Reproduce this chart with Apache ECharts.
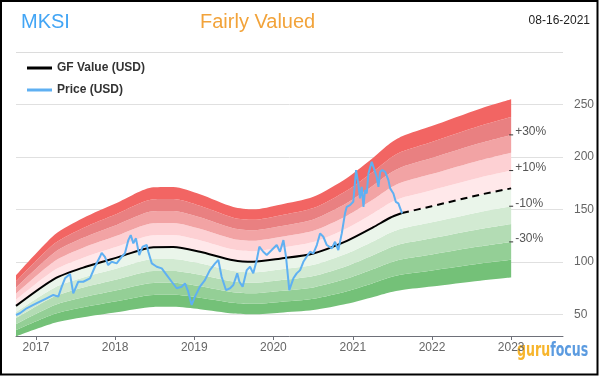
<!DOCTYPE html>
<html>
<head>
<meta charset="utf-8">
<script src="https://cdn.jsdelivr.net/npm/echarts@6/dist/echarts.min.js"></script>
<style>
  html, body { margin: 0; padding: 0; background: #fff; }
  #gfchart { width: 602px; height: 376px; }
</style>
</head>
<body>
<div id="gfchart"></div>
<script>
// GF Value line (solid up to today, dashed projection afterwards)
var gfDates = ['2016-10-01', '2017-03-29', '2017-08-07', '2018-01-08', '2018-06-26', '2018-09-26',
  '2019-01-27', '2019-06-30', '2019-09-30', '2020-01-31', '2020-07-03', '2020-12-05',
  '2021-04-06', '2021-06-22', '2021-08-16', '2021-12-31', '2022-08-11', '2023-01-01'];
var gfValues = [58, 84, 94.5, 104, 114, 114.2,
  109.6, 101.5, 100, 103, 108, 120,
  133, 142, 146.5, 153, 164, 170];
var today = '2021-08-16';

// Price (USD)
var priceDates = ['2016-10-01', '2016-10-19', '2016-11-19', '2016-12-20', '2017-01-19', '2017-02-19',
  '2017-03-22', '2017-04-14', '2017-04-30', '2017-05-15', '2017-06-07', '2017-06-22', '2017-07-15',
  '2017-08-07', '2017-09-07', '2017-09-30', '2017-10-23', '2017-10-31', '2017-11-15', '2017-11-30',
  '2017-12-16', '2018-01-08', '2018-01-31', '2018-02-15', '2018-03-03', '2018-03-14', '2018-03-26',
  '2018-04-07', '2018-04-22', '2018-05-08', '2018-05-27', '2018-06-03', '2018-06-19', '2018-07-12',
  '2018-08-04', '2018-08-27', '2018-09-19', '2018-10-12', '2018-11-04', '2018-11-19', '2018-12-04',
  '2018-12-20', '2019-01-04', '2019-01-27', '2019-02-19', '2019-03-14', '2019-04-07', '2019-04-22',
  '2019-05-07', '2019-05-27', '2019-06-15', '2019-06-30', '2019-07-18', '2019-07-28', '2019-08-12',
  '2019-08-31', '2019-09-15', '2019-09-30', '2019-10-16', '2019-10-28', '2019-11-15', '2019-12-01',
  '2019-12-24', '2020-01-16', '2020-01-31', '2020-02-16', '2020-02-28', '2020-03-14', '2020-04-02',
  '2020-04-17', '2020-05-03', '2020-05-18', '2020-06-02', '2020-06-18', '2020-07-03', '2020-07-19',
  '2020-08-03', '2020-08-18', '2020-09-03', '2020-09-26', '2020-10-11', '2020-10-26', '2020-11-11',
  '2020-11-26', '2020-12-04', '2020-12-19', '2021-01-03', '2021-01-16', '2021-01-26', '2021-02-03',
  '2021-02-11', '2021-02-19', '2021-02-26', '2021-03-06', '2021-03-14', '2021-03-29', '2021-04-06',
  '2021-04-13', '2021-04-21', '2021-04-29', '2021-05-07', '2021-05-17', '2021-05-30', '2021-06-14',
  '2021-06-22', '2021-07-07', '2021-07-18', '2021-07-30', '2021-08-16'];
var priceValues = [49.3, 51, 55.7, 58.9, 62, 65.2,
  68.4, 66.8, 76.3, 84.3, 88.4, 70, 81,
  81, 84.3, 95.3, 104.8, 108.6, 104.8, 96.9,
  100, 98.5, 104.8, 108, 120.7, 125.5, 117.6,
  122.4, 106.5, 114.4, 116, 109.6, 98.5, 95.3,
  93.8, 87.4, 81, 74.8, 76.3, 79.5, 71.5,
  58.9, 66.8, 76.3, 82.6, 92.1, 98.5, 101.7,
  85.8, 73.1, 74.8, 77.9, 89, 81, 76.3,
  92.1, 95.3, 89, 101.7, 114.4, 109.6, 106.5,
  111.2, 116, 109.6, 120.7, 104.8, 73.1, 84.3,
  89, 92.1, 100, 104.8, 109.6, 108, 116,
  127.1, 123.9, 116, 112.8, 119.1, 111.2, 127.1,
  146.2, 152.4, 154, 157.2, 187.4, 174.7, 160.4,
  171.5, 152.4, 168.4, 165.2, 184.2, 195.3, 190.5,
  192.1, 181, 171.5, 185.8, 187.4, 185.8, 177.9,
  170, 165.2, 157.2, 155.7, 146.2];

// valuation bands as multiples of GF Value, from bottom to top
var bandSteps = [0.5, 0.6, 0.7, 0.8, 0.9, 1.0, 1.1, 1.2, 1.3, 1.4, 1.5];
var bandColors = ['#74c178', '#94cf96', '#b3dcb4', '#d2ead2', '#eaf5ea',
  '#ffe8ea', '#fdd0d3', '#f2a3a4', '#e98081', '#f26563'];
var bandTagText = ['+30%', '+10%', '-10%', '-30%'];
var bandTagSteps = [1.3, 1.1, 0.9, 0.7];

var yTicks = [50, 100, 150, 200, 250, 300];
var yLabels = [50, 100, 150, 200, 250];

var gridLeft = 16, gridRight = 39, gridTop = 52, gridBottom = 40;
var cut = gfDates.indexOf(today);
var series = [];

// invisible base of the band stack
series.push({
  name: 'base', type: 'line', stack: 'band', smooth: 0.25, symbol: 'none', silent: true,
  lineStyle: { opacity: 0 },
  data: gfDates.map(function (d, i) { return [d, gfValues[i] * bandSteps[0]]; })
});
for (var b = 0; b < bandColors.length; b++) {
  (function (b) {
    series.push({
      name: 'band' + b, type: 'line', stack: 'band', smooth: 0.25, symbol: 'none', silent: true,
      lineStyle: { opacity: 0 },
      areaStyle: { color: bandColors[b], opacity: 1 },
      data: gfDates.map(function (d, i) { return [d, gfValues[i] * (bandSteps[b + 1] - bandSteps[b])]; })
    });
  })(b);
}

var lastDate = gfDates[gfDates.length - 1];
var lastGf = gfValues[gfValues.length - 1];

series.push({
  name: 'GF Value (USD)', type: 'line', smooth: 0.25, symbol: 'none',
  lineStyle: { color: '#000', width: 2 }, itemStyle: { color: '#000' },
  data: gfDates.slice(0, cut + 1).map(function (d, i) { return [d, gfValues[i]]; })
});
series.push({
  name: 'gfFuture', type: 'line', smooth: 0.25, symbol: 'none',
  lineStyle: { color: '#000', width: 2, type: [7, 5] },
  data: gfDates.slice(cut).map(function (d, i) { return [d, gfValues[cut + i]]; }),
  markPoint: {
    symbol: 'rect', symbolSize: [4, 1], silent: true,
    itemStyle: { color: '#333' },
    label: { show: true, position: 'right', distance: 2, offset: [0, -3], color: '#555', fontSize: 12, fontFamily: 'Liberation Sans', formatter: '{b}' },
    data: bandTagText.map(function (t, i) { return { name: t, coord: [lastDate, lastGf * bandTagSteps[i]] }; })
  }
});
series.push({
  name: 'Price (USD)', type: 'line', symbol: 'none',
  lineStyle: { color: '#5fb0f2', width: 2 }, itemStyle: { color: '#5fb0f2' },
  data: priceDates.map(function (d, i) { return [d, priceValues[i]]; })
});

var chart = echarts.init(document.getElementById('gfchart'));
chart.setOption({
  animation: false,
  textStyle: { fontFamily: 'Liberation Sans' },
  grid: { left: gridLeft, right: gridRight, top: gridTop, bottom: gridBottom },
  legend: {
    orient: 'vertical', left: 22, top: 57, itemWidth: 25, itemHeight: 3, itemGap: 10,
    icon: 'rect',
    textStyle: { fontSize: 12, fontWeight: 'bold', color: '#333' },
    data: ['GF Value (USD)', 'Price (USD)']
  },
  xAxis: {
    type: 'time', min: '2016-10-01', max: '2023-08-28',
    minInterval: 365 * 24 * 3600 * 1000,
    axisLine: { lineStyle: { color: '#6e7079' } },
    axisTick: { length: 4, lineStyle: { color: '#6e7079' } },
    axisLabel: { color: '#666', fontSize: 12, margin: 6, formatter: '{yyyy}', showMinLabel: false, showMaxLabel: false },
    splitLine: { show: false }
  },
  yAxis: {
    type: 'value', position: 'right', min: 29.3, max: 300,
    axisLine: { show: false },
    axisTick: { show: false, customValues: yTicks },
    axisLabel: { color: '#666', fontSize: 12, margin: 11, customValues: yLabels },
    splitLine: { lineStyle: { color: '#e0e0e0' } }
  },
  graphic: [
    // grid top = the 300 line, which doubles as the header rule
    { id: 'topRule', type: 'rect', silent: true, z: 100,
      shape: { x: gridLeft, y: gridTop, width: 602 - gridRight - gridLeft, height: 1 },
      style: { fill: '#dcdcdc' } },
    { id: 'frame', type: 'rect', shape: { x: 1, y: 1, width: 596.5, height: 373.5 }, style: { fill: 'none', stroke: '#000', lineWidth: 2 }, silent: true },
    { id: 'ticker', type: 'text', left: 21, top: 12, style: { text: 'MKSI', fill: '#42a5f5', font: '20px "Liberation Sans"' } },
    { id: 'verdict', type: 'text', left: 200, top: 12, style: { text: 'Fairly Valued', fill: '#f2a33a', font: '20px "Liberation Sans"' } },
    { id: 'date', type: 'text', right: 12, top: 15, style: { text: '08-16-2021', fill: '#222', font: '12px "Liberation Sans"' } },
    { id: 'logo', type: 'text', x: 517, y: 342, scaleY: 1.35, silent: true, style: {
      text: '{g|guru}{f|focus}',
      rich: {
        g: { fill: '#f7b52c', font: 'bold 14px "DejaVu Sans Condensed"' },
        f: { fill: '#5b9be0', font: 'bold 14px "DejaVu Sans Condensed"' }
      },
      stroke: '#ffffff', lineWidth: 2
    } }
  ],
  series: series
});
</script>
</body>
</html>
